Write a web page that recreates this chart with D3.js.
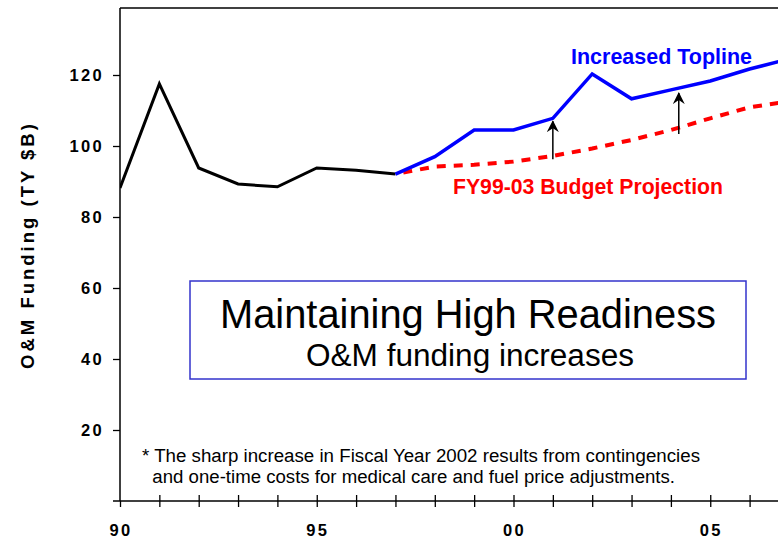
<!DOCTYPE html>
<html>
<head>
<meta charset="utf-8">
<script src="https://cdn.jsdelivr.net/npm/d3@7"></script>
<style>
  html, body { margin: 0; padding: 0; background: #fff; }
  svg { display: block; font-family: "Liberation Sans", Arial, Helvetica, sans-serif; }
</style>
</head>
<body>
<svg id="chart" width="778" height="539"></svg>
<script>
// ---- data ----
const histYears = [1990, 1991, 1992, 1993, 1994, 1995, 1996, 1997];
const histValues = [88.2, 117.5, 93.8, 89.3, 88.5, 93.8, 93.2, 92.1];

const projYears = [1997, 1998, 1999, 2000, 2001, 2002, 2003, 2004, 2005, 2006, 2007];
const toplineValues = [92.1, 97.0, 104.5, 104.5, 107.8, 120.3, 113.3, 115.8, 118.3, 121.7, 124.5];
const budgetValues = [92.1, 94.2, 94.7, 95.6, 97.2, 99.3, 101.7, 104.5, 107.8, 110.9, 112.6];

const arrowYears = [2001, 2004.2];
const arrowFrom = [96.3, 103.4];
const arrowTo = [107.0, 114.9];

const yTicks = [20, 40, 60, 80, 100, 120];
const xTickYears = d3.range(1990, 2007);
const xLabelYears = [1990, 1995, 2000, 2005];
const xLabels = ["90", "95", "00", "05"];

const yTitle = "O&M Funding (TY $B)";
const titleMain = "Maintaining High Readiness";
const titleSub = "O&M funding increases";
const toplineLabel = "Increased Topline";
const budgetLabel = "FY99-03 Budget Projection";
const footnote = [
  "* The sharp increase in Fiscal Year 2002 results from contingencies",
  "  and one-time costs for medical care and fuel price adjustments."
];

// ---- layout ----
const W = 778, H = 539;
const left = 120, axisY = 501, topY = 8;
const svg = d3.select("#chart");

const x = d3.scaleLinear().domain([1990, 2007]).range([left, left + 17 * 39.35]);
const y = d3.scaleLinear().domain([0, 120]).range([axisY, 75]);

svg.append("defs").append("clipPath").attr("id", "clip")
  .append("rect").attr("x", left).attr("y", 0).attr("width", W - left).attr("height", axisY);
svg.select("defs").append("marker")
  .attr("id", "arrow").attr("viewBox", "0 0 12 12").attr("refX", 11).attr("refY", 6)
  .attr("markerWidth", 12).attr("markerHeight", 12).attr("markerUnits", "userSpaceOnUse")
  .attr("orient", "auto")
  .append("path").attr("d", "M0,0 L12,6 L0,12 L4,6 Z").attr("fill", "#000");

// frame: top line
svg.append("line").attr("x1", left).attr("x2", W).attr("y1", topY).attr("y2", topY)
  .attr("stroke", "#000").attr("stroke-width", 1.5);
// left axis line
svg.append("line").attr("x1", left).attr("x2", left).attr("y1", topY).attr("y2", axisY)
  .attr("stroke", "#000").attr("stroke-width", 1.5);
// bottom axis line
svg.append("line").attr("x1", left - 7).attr("x2", W).attr("y1", axisY).attr("y2", axisY)
  .attr("stroke", "#000").attr("stroke-width", 1.5);

// y axis
const yAxis = svg.append("g").attr("transform", `translate(${left},0)`)
  .call(d3.axisLeft(y).tickValues(yTicks).tickSize(7).tickPadding(9).tickFormat(d3.format("d")));
yAxis.select(".domain").remove();
yAxis.selectAll("line").attr("stroke", "#000").attr("stroke-width", 1.3);
yAxis.selectAll("text").attr("font-size", 16.5).attr("font-weight", "bold")
  .attr("letter-spacing", 2.3).attr("fill", "#000")
  .attr("font-family", "Liberation Sans, Arial, sans-serif");

// x axis ticks (crossing axis)
const xAxis = svg.append("g").attr("transform", `translate(0,${axisY})`)
  .call(d3.axisBottom(x).tickValues(xTickYears).tickSize(6).tickFormat(""));
xAxis.select(".domain").remove();
xAxis.selectAll(".tick line").attr("stroke", "#000").attr("stroke-width", 1.3)
  .attr("y1", d => d === 1990 ? 0 : -6).attr("y2", 6);

svg.append("g").selectAll("text").data(xLabelYears).join("text")
  .attr("x", d => x(d) + 1).attr("y", 536)
  .attr("text-anchor", "middle").attr("font-size", 16.5).attr("font-weight", "bold")
  .attr("letter-spacing", 2.3)
  .text((d, i) => xLabels[i]);

// y title
svg.append("text")
  .attr("transform", "translate(34,245) rotate(-90)")
  .attr("text-anchor", "middle").attr("font-size", 18.5).attr("font-weight", "bold")
  .attr("letter-spacing", 3.0)
  .text(yTitle);

// lines
const plot = svg.append("g").attr("clip-path", "url(#clip)");
const line = d3.line().x(d => x(d[0])).y(d => y(d[1]));

plot.append("path").datum(projYears.map((yr, i) => [yr, budgetValues[i]]))
  .attr("d", line).attr("fill", "none").attr("stroke", "#ff0000")
  .attr("stroke-width", 4).attr("stroke-dasharray", "9,8").attr("stroke-dashoffset", -8);

plot.append("path").datum(histYears.map((yr, i) => [yr, histValues[i]]))
  .attr("d", line).attr("fill", "none").attr("stroke", "#000")
  .attr("stroke-width", 3).attr("stroke-linejoin", "miter");

plot.append("path").datum(projYears.map((yr, i) => [yr, toplineValues[i]]))
  .attr("d", line).attr("fill", "none").attr("stroke", "#0000ff")
  .attr("stroke-width", 3.5).attr("stroke-linejoin", "miter");

// arrows
svg.append("g").selectAll("line").data(arrowYears).join("line")
  .attr("x1", d => x(d)).attr("x2", d => x(d))
  .attr("y1", (d, i) => y(arrowFrom[i])).attr("y2", (d, i) => y(arrowTo[i]))
  .attr("stroke", "#000").attr("stroke-width", 1.5).attr("marker-end", "url(#arrow)");

// series labels
svg.append("text").attr("x", 571).attr("y", 64).attr("font-size", 21.5).attr("font-weight", "bold")
  .attr("fill", "#0000ff").attr("textLength", 181).attr("lengthAdjust", "spacingAndGlyphs")
  .text(toplineLabel);
svg.append("text").attr("x", 453).attr("y", 194).attr("font-size", 21.5).attr("font-weight", "bold")
  .attr("fill", "#ff0000").attr("textLength", 270).attr("lengthAdjust", "spacingAndGlyphs")
  .text(budgetLabel);

// title box
svg.append("rect").attr("x", 190).attr("y", 281).attr("width", 556).attr("height", 98)
  .attr("fill", "#fff").attr("stroke", "#3333cc").attr("stroke-width", 1.5);
svg.append("text").attr("x", 468).attr("y", 328).attr("text-anchor", "middle")
  .attr("font-size", 40).attr("textLength", 496).attr("lengthAdjust", "spacingAndGlyphs")
  .text(titleMain);
svg.append("text").attr("x", 470).attr("y", 366).attr("text-anchor", "middle")
  .attr("font-size", 31).attr("textLength", 328).attr("lengthAdjust", "spacingAndGlyphs")
  .text(titleSub);

// footnote
svg.append("g").selectAll("text").data(footnote).join("text")
  .attr("x", 142).attr("y", (d, i) => 462 + i * 21)
  .attr("font-size", 18).attr("xml:space", "preserve").style("white-space", "pre")
  .attr("textLength", (d, i) => i === 0 ? 558 : 533).attr("lengthAdjust", "spacingAndGlyphs")
  .text(d => d);
</script>
</body>
</html>
